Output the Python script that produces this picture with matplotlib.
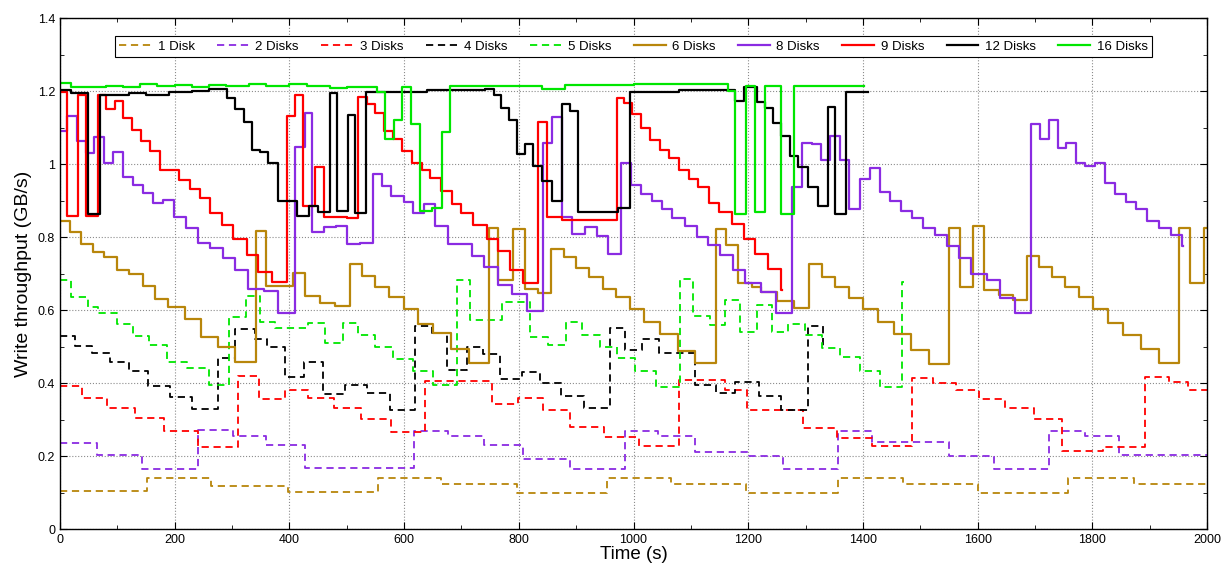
import matplotlib
matplotlib.use("Agg")
import matplotlib.pyplot as plt
from matplotlib.ticker import MultipleLocator

plt.rcParams['font.family'] = ['Liberation Sans', 'DejaVu Sans']

# ---------------- data (time s, throughput GB/s), step-post ----------------
d1_t = [0,151,264,398,554,665,796,953,1066,1197,1356,1470,1600,1758,1872,2000]
d1_v = [0.103,0.14,0.119,0.102,0.14,0.124,0.10,0.139,0.123,0.10,0.139,0.123,0.10,0.139,0.122]

d2_t = [0,65,143,240,302,360,428,618,677,739,807,889,986,1043,1107,1200,1260,1357,1415,1550,1629,1725,1787,1847,2000]
d2_v = [0.236,0.202,0.165,0.270,0.255,0.231,0.168,0.268,0.256,0.231,0.191,0.164,0.269,0.255,0.210,0.201,0.164,0.269,0.239,0.201,0.164,0.269,0.255,0.202]

d3_t = [0,38,82,130,182,240,311,347,392,433,478,525,577,636,753,799,843,890,949,1010,1080,1160,1198,1296,1354,1415,1485,1523,1563,1602,1648,1698,1748,1819,1892,1933,1967,2000]
d3_v = [0.393,0.359,0.332,0.303,0.268,0.226,0.418,0.357,0.381,0.360,0.332,0.302,0.266,0.405,0.342,0.359,0.327,0.279,0.251,0.227,0.408,0.381,0.327,0.277,0.250,0.227,0.413,0.400,0.381,0.357,0.332,0.301,0.215,0.226,0.416,0.403,0.381]

d4_t = [0,26,55,87,120,153,192,230,276,305,340,361,392,426,458,497,535,575,619,648,674,709,738,767,805,837,874,914,959,985,1015,1044,1107,1144,1177,1218,1258,1305,1331,1334]
d4_v = [0.529,0.501,0.481,0.458,0.433,0.393,0.361,0.328,0.470,0.549,0.522,0.499,0.417,0.457,0.370,0.394,0.372,0.326,0.556,0.536,0.437,0.500,0.479,0.410,0.431,0.399,0.364,0.331,0.550,0.490,0.520,0.481,0.395,0.374,0.402,0.365,0.327,0.557,0.50]

d5_t = [0,20,48,66,99,128,156,187,222,259,295,324,349,375,433,462,494,520,549,581,616,651,692,715,770,820,851,883,910,942,971,1003,1040,1081,1104,1133,1160,1186,1215,1241,1270,1299,1328,1360,1395,1430,1469,1471]
d5_v = [0.682,0.636,0.609,0.593,0.561,0.530,0.504,0.459,0.440,0.396,0.582,0.638,0.568,0.550,0.564,0.509,0.565,0.533,0.499,0.467,0.434,0.394,0.682,0.573,0.623,0.525,0.504,0.568,0.533,0.499,0.469,0.433,0.389,0.684,0.584,0.559,0.627,0.541,0.614,0.541,0.562,0.532,0.497,0.472,0.433,0.388,0.678]

d6_t = [0,17,37,57,77,99,120,144,166,189,218,245,276,306,341,360,407,428,453,480,506,527,549,573,599,625,651,681,714,748,764,790,811,833,857,878,899,922,946,969,994,1019,1047,1078,1108,1144,1162,1182,1206,1223,1250,1279,1306,1328,1351,1375,1401,1426,1454,1483,1515,1550,1569,1592,1612,1637,1661,1686,1707,1729,1752,1776,1802,1827,1854,1885,1917,1951,1970,1994,2000]
d6_v = [0.845,0.813,0.781,0.760,0.746,0.711,0.699,0.666,0.629,0.609,0.576,0.527,0.498,0.458,0.817,0.666,0.702,0.638,0.620,0.611,0.726,0.693,0.664,0.636,0.602,0.563,0.536,0.492,0.454,0.825,0.682,0.822,0.659,0.646,0.766,0.746,0.714,0.691,0.659,0.635,0.603,0.566,0.534,0.489,0.454,0.822,0.778,0.675,0.662,0.650,0.625,0.605,0.726,0.691,0.662,0.632,0.604,0.566,0.534,0.490,0.451,0.824,0.664,0.830,0.655,0.641,0.627,0.748,0.717,0.691,0.662,0.635,0.602,0.565,0.533,0.493,0.454,0.824,0.675,0.824]

d8_t = [0,13,29,45,60,76,93,110,128,145,163,180,199,219,240,262,285,306,328,355,380,410,428,439,461,481,501,523,545,561,578,599,616,635,654,677,696,718,740,764,788,815,843,858,875,893,915,936,956,978,996,1013,1032,1049,1068,1089,1110,1130,1151,1174,1195,1223,1248,1277,1294,1311,1327,1343,1360,1376,1395,1412,1429,1447,1466,1485,1505,1526,1547,1568,1589,1616,1639,1665,1693,1709,1725,1740,1755,1772,1788,1805,1822,1840,1859,1877,1896,1917,1937,1957,1958]
d8_v = [1.091,1.132,1.064,1.031,1.073,1.004,1.034,0.966,0.942,0.921,0.894,0.903,0.856,0.824,0.783,0.769,0.742,0.711,0.657,0.653,0.591,1.047,1.139,0.815,0.828,0.831,0.781,0.785,0.972,0.940,0.912,0.897,0.867,0.890,0.831,0.781,0.781,0.748,0.717,0.668,0.644,0.598,1.057,1.130,0.856,0.808,0.827,0.803,0.753,1.004,0.944,0.918,0.899,0.876,0.851,0.830,0.801,0.778,0.751,0.711,0.675,0.650,0.593,0.938,1.058,1.055,1.012,1.078,1.011,0.878,0.959,0.990,0.924,0.899,0.871,0.851,0.824,0.805,0.776,0.743,0.699,0.682,0.632,0.591,1.109,1.068,1.122,1.043,1.059,1.004,0.995,1.002,0.947,0.917,0.895,0.877,0.845,0.824,0.805,0.776]

d9_t = [0,12,32,46,67,80,96,110,126,141,157,174,207,227,244,262,282,302,326,346,369,395,410,424,445,461,500,520,535,549,565,581,596,613,631,646,664,683,700,721,744,764,785,808,834,850,875,971,984,998,1013,1029,1046,1062,1079,1096,1113,1131,1149,1171,1192,1212,1235,1258,1259]
d9_v = [1.198,0.858,1.189,0.858,1.189,1.150,1.174,1.125,1.093,1.064,1.036,0.985,0.956,0.933,0.908,0.865,0.833,0.796,0.751,0.705,0.676,1.132,1.189,0.885,0.993,0.854,0.852,1.184,1.164,1.141,1.091,1.068,1.037,1.004,0.985,0.961,0.927,0.892,0.867,0.833,0.796,0.762,0.710,0.673,1.116,0.856,0.848,1.180,1.168,1.136,1.098,1.066,1.038,1.018,0.984,0.958,0.936,0.894,0.869,0.837,0.796,0.755,0.712,0.655]

d12_t = [0,20,49,70,120,150,190,230,260,291,305,320,334,349,363,380,414,434,450,471,483,502,514,533,640,741,756,769,783,796,811,825,841,858,876,889,904,921,973,994,1080,1177,1192,1215,1230,1244,1257,1273,1287,1304,1321,1339,1351,1371,1409]
d12_v = [1.203,1.195,0.862,1.190,1.195,1.190,1.197,1.200,1.205,1.180,1.150,1.116,1.038,1.034,1.004,0.899,0.858,0.885,0.869,1.196,0.871,1.134,0.865,1.198,1.203,1.207,1.189,1.153,1.121,1.027,1.055,0.995,0.954,0.899,1.164,1.146,0.868,0.870,0.881,1.198,1.204,1.174,1.210,1.171,1.155,1.114,1.077,1.022,0.991,0.936,0.886,1.157,0.862,1.198]

d16_t = [0,20,50,80,110,140,170,200,230,260,290,330,360,400,430,470,500,552,567,583,597,612,627,648,666,680,840,880,1000,1165,1177,1197,1212,1230,1258,1279,1402]
d16_v = [1.221,1.212,1.210,1.215,1.212,1.220,1.214,1.218,1.212,1.218,1.214,1.220,1.214,1.219,1.213,1.209,1.212,1.198,1.068,1.122,1.212,1.110,0.872,0.879,1.088,1.214,1.207,1.216,1.220,1.200,0.862,1.214,0.869,1.214,0.862,1.214]

labels = ['1 Disk', '2 Disks', '3 Disks', '4 Disks', '5 Disks',
          '6 Disks', '8 Disks', '9 Disks', '12 Disks', '16 Disks']

BROWN = '#B8860B'
PURPLE = '#8A2BE2'
RED = '#FF0000'
BLACK = '#000000'
GREEN = '#00E600'

series = [
    (d1_t, d1_v, BROWN, '--'),
    (d2_t, d2_v, PURPLE, '--'),
    (d3_t, d3_v, RED, '--'),
    (d4_t, d4_v, BLACK, '--'),
    (d5_t, d5_v, GREEN, '--'),
    (d6_t, d6_v, BROWN, '-'),
    (d8_t, d8_v, PURPLE, '-'),
    (d9_t, d9_v, RED, '-'),
    (d12_t, d12_v, BLACK, '-'),
    (d16_t, d16_v, GREEN, '-'),
]

fig = plt.figure(figsize=(12.27, 5.67), dpi=100)
ax = fig.add_axes([0.0489, 0.067, 0.9348, 0.901])

handles = []
for (t, v, c, ls), lab in zip(series, labels):
    vv = list(v) + [v[-1]]
    if ls == '--':
        h, = ax.step(t, vv, where='post', color=c, lw=1.3, linestyle=(0, (4, 2.6)), label=lab)
    else:
        h, = ax.step(t, vv, where='post', color=c, lw=1.6, label=lab)
    handles.append(h)

ax.set_xlim(0, 2000)
ax.set_ylim(0, 1.4)
ax.xaxis.set_major_locator(MultipleLocator(200))
ax.xaxis.set_minor_locator(MultipleLocator(100))
ax.yaxis.set_minor_locator(MultipleLocator(0.1))
ax.set_yticks([0, 0.2, 0.4, 0.6, 0.8, 1.0, 1.2, 1.4])
ax.set_yticklabels(['0', '0.2', '0.4', '0.6', '0.8', '1', '1.2', '1.4'])
ax.tick_params(which='both', direction='in', top=True, right=True, labelsize=9)
ax.tick_params(which='major', length=5, width=0.8)
ax.tick_params(which='minor', length=3, width=0.6)
ax.grid(True, which='major', linestyle=':', color='0.55', lw=0.8)
for s in ax.spines.values():
    s.set_linewidth(1.0)

ax.set_xlabel('Time (s)', fontsize=13.5, labelpad=0)
ax.set_ylabel('Write throughput (GB/s)', fontsize=14, labelpad=4)

leg = ax.legend(handles=handles, loc='upper center', ncol=10, fontsize=9.5,
                bbox_to_anchor=(0.5, 0.965), frameon=True, fancybox=False,
                edgecolor='black', framealpha=1, handlelength=2.4,
                handletextpad=0.5, columnspacing=1.7, borderpad=0.35,
                borderaxespad=0.0)
leg.get_frame().set_linewidth(0.8)

fig.savefig('out.png', dpi=100)
